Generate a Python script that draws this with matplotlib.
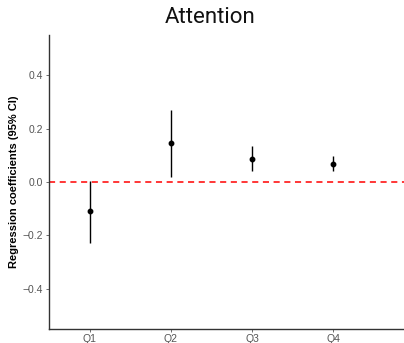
import matplotlib
matplotlib.use("Agg")
import matplotlib.pyplot as plt

quartiles = ["Q1", "Q2", "Q3", "Q4"]
coef = [-0.11, 0.144, 0.086, 0.067]
ci_low = [-0.227, 0.017, 0.040, 0.040]
ci_high = [0.005, 0.268, 0.133, 0.096]

fig = plt.figure(figsize=(4.04, 3.43), dpi=100)
ax = fig.add_axes([0.121, 0.041, 0.879, 0.857])

xs = list(range(1, len(quartiles) + 1))
ax.axhline(0, color="red", linestyle=(0, (4, 3)), linewidth=1.1, zorder=1)
ax.vlines(xs, ci_low, ci_high, color="black", linewidth=1.0, zorder=2)
ax.plot(xs, coef, "o", color="black", markersize=3.2, zorder=3)

ax.set_xlim(0.5, 4.87)
ax.set_ylim(-0.55, 0.55)
ax.set_xticks(xs)
ax.set_xticklabels(quartiles)
ax.set_yticks([-0.4, -0.2, 0.0, 0.2, 0.4])
ax.set_yticklabels(["\u22120.4", "\u22120.2", "0.0", "0.2", "0.4"])

for s in ["top", "right"]:
    ax.spines[s].set_visible(False)
for s in ["left", "bottom"]:
    ax.spines[s].set_color("#333333")
    ax.spines[s].set_linewidth(1.0)
ax.tick_params(axis="both", colors="#555555", labelsize=7.5, length=2.5,
               width=0.6, pad=1.5)
for lab in ax.get_xticklabels() + ax.get_yticklabels():
    lab.set_family("Liberation Sans")
    lab.set_color("#555555")

ax.set_ylabel("Regression coefficients (95% CI)", fontsize=8, fontweight="bold",
              family="Liberation Sans", labelpad=3)
fig.text(0.519, 0.95, "Attention", fontsize=16, family="Roboto",
         ha="center", va="center", color="#111111")

fig.savefig("out.png", dpi=100)
